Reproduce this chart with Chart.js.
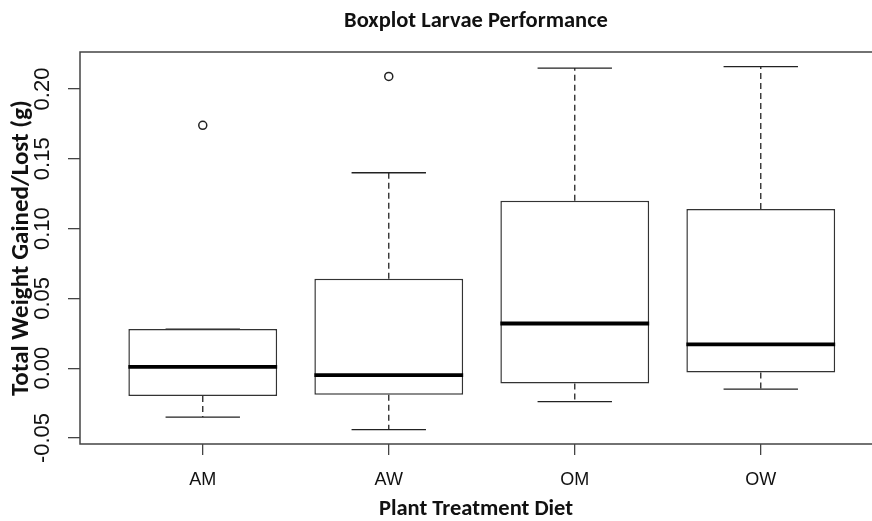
<!DOCTYPE html>
<html>
<head>
<meta charset="utf-8">
<title>Boxplot Larvae Performance</title>
<script src="https://cdn.jsdelivr.net/npm/chart.js@4.4.1/dist/chart.umd.min.js"></script>
<style>
  html, body { margin: 0; padding: 0; background: #fff; overflow: hidden; }
  canvas { display: block; }
</style>
</head>
<body>
<canvas id="myChart" width="872" height="521"></canvas>
<script>
const diets = ['AM', 'AW', 'OM', 'OW'];
const lowerWhisker = [-0.035, -0.044, -0.024, -0.015];
const q1 = [-0.020, -0.019, -0.011, -0.003];
const medians = [0.001, -0.005, 0.032, 0.017];
const q3 = [0.028, 0.064, 0.120, 0.114];
const upperWhisker = [0.028, 0.140, 0.215, 0.216];
const outlierGroup = [1, 2];
const outlierValues = [0.174, 0.209];
const yTicks = [-0.05, 0.00, 0.05, 0.10, 0.15, 0.20];

const boldFamily = 'Carlito, Lato, sans-serif';
const tickFamily = 'Liberation Sans, Arial, sans-serif';

// dashed whiskers + staples, drawn under the boxes
const whiskers = {
    id: 'whiskers',
    beforeDatasetsDraw(chart) {
        const { ctx, scales: { x, y } } = chart;
        ctx.save();
        ctx.strokeStyle = '#222';
        ctx.lineWidth = 1.3;
        for (let i = 0; i < diets.length; i++) {
            const px = x.getPixelForValue(i + 1);
            const left = x.getPixelForValue(i + 1 - 0.2);
            const right = x.getPixelForValue(i + 1 + 0.2);

            ctx.setLineDash([6, 4]);
            ctx.beginPath();
            ctx.moveTo(px, y.getPixelForValue(q3[i]));
            ctx.lineTo(px, y.getPixelForValue(upperWhisker[i]));
            ctx.moveTo(px, y.getPixelForValue(q1[i]));
            ctx.lineTo(px, y.getPixelForValue(lowerWhisker[i]));
            ctx.stroke();

            ctx.setLineDash([]);
            ctx.beginPath();
            ctx.moveTo(left, y.getPixelForValue(upperWhisker[i]));
            ctx.lineTo(right, y.getPixelForValue(upperWhisker[i]));
            ctx.moveTo(left, y.getPixelForValue(lowerWhisker[i]));
            ctx.lineTo(right, y.getPixelForValue(lowerWhisker[i]));
            ctx.stroke();
        }
        ctx.restore();
    },
    afterDatasetsDraw(chart) {
        const { ctx, scales: { x, y } } = chart;
        ctx.save();
        ctx.strokeStyle = '#000';
        ctx.lineWidth = 3.8;
        for (let i = 0; i < diets.length; i++) {
            const py = y.getPixelForValue(medians[i]);
            ctx.beginPath();
            ctx.moveTo(x.getPixelForValue(i + 1 - 0.4), py);
            ctx.lineTo(x.getPixelForValue(i + 1 + 0.4), py);
            ctx.stroke();
        }
        ctx.restore();
    }
};

// box round the plot region; its right side is cut off by the picture edge, as in the original
const frame = {
    id: 'frame',
    afterDraw(chart) {
        const { ctx, chartArea: a } = chart;
        ctx.save();
        ctx.strokeStyle = '#444';
        ctx.lineWidth = 1.5;
        ctx.beginPath();
        ctx.moveTo(chart.width, a.top);
        ctx.lineTo(a.left, a.top);
        ctx.lineTo(a.left, a.bottom);
        ctx.lineTo(chart.width, a.bottom);
        ctx.stroke();
        ctx.restore();
    }
};

const ctx = document.getElementById('myChart').getContext('2d');
const myChart = new Chart(ctx, {
    type: 'bar',
    data: {
        datasets: [{
                type: 'bar',
                data: diets.map((d, i) => ({ x: i + 1, y: [q1[i], q3[i]] })),
                backgroundColor: '#fff',
                borderColor: '#333',
                borderWidth: 1.5,
                borderSkipped: false,
                categoryPercentage: 0.8,
                barPercentage: 1
            },
            {
                type: 'scatter',
                data: outlierGroup.map((g, i) => ({ x: g, y: outlierValues[i] })),
                pointRadius: 4,
                pointBorderWidth: 1.5,
                borderColor: '#222',
                backgroundColor: '#fff'
            }
        ]
    },
    options: {
        responsive: false,
        animation: false,
        devicePixelRatio: 1,
        layout: { padding: 0, autoPadding: false },
        plugins: {
            legend: { display: false },
            tooltip: { enabled: false },
            title: {
                display: true,
                text: 'Boxplot Larvae Performance',
                fullSize: false,
                color: '#111',
                font: { family: boldFamily, weight: 'bold', size: 22.5, lineHeight: 1 },
                padding: { top: 10, bottom: 19.5 }
            }
        },
        scales: {
            x: {
                type: 'linear',
                min: 0.34,
                max: 4.598,
                offset: false,
                afterBuildTicks: (scale) => {
                    scale.ticks = diets.map((d, i) => ({ value: i + 1 }));
                },
                afterFit: (scale) => {
                    scale.height = 77;
                    scale.paddingLeft = 0;
                    scale.paddingRight = 0;
                },
                grid: { display: true, offset: false, drawOnChartArea: false, drawTicks: true, tickLength: 11, color: '#444', lineWidth: 1.3 },
                border: { display: false },
                ticks: {
                    autoSkip: false,
                    maxRotation: 0,
                    padding: 14,
                    color: '#111',
                    font: { family: tickFamily, size: 18 },
                    callback: (v) => diets[Math.round(v) - 1]
                },
                title: {
                    display: true,
                    text: 'Plant Treatment Diet',
                    color: '#111',
                    font: { family: boldFamily, weight: 'bold', size: 22.5, lineHeight: 1 },
                    padding: { top: 0, bottom: 0 }
                }
            },
            y: {
                min: -0.0543,
                max: 0.2265,
                afterBuildTicks: (scale) => {
                    scale.ticks = yTicks.map(v => ({ value: v }));
                },
                afterFit: (scale) => { scale.width = 80; },
                grid: { display: true, drawOnChartArea: false, drawTicks: true, tickLength: 12, color: '#444', lineWidth: 1.3 },
                border: { display: false },
                ticks: {
                    minRotation: 90,
                    maxRotation: 90,
                    crossAlign: 'center',
                    padding: 0,
                    color: '#111',
                    font: { family: tickFamily, size: 22 },
                    callback: (v) => v.toFixed(2)
                },
                title: {
                    display: true,
                    text: 'Total Weight Gained/Lost (g)',
                    color: '#111',
                    font: { family: boldFamily, weight: 'bold', size: 25, lineHeight: 1 },
                    padding: { top: 9, bottom: 0 }
                }
            }
        }
    },
    plugins: [whiskers, frame]
});
</script>
</body>
</html>
